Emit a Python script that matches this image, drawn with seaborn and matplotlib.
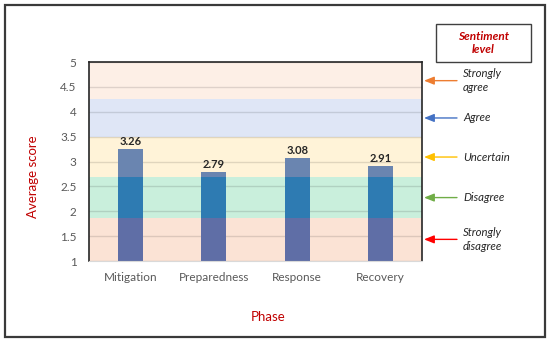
import matplotlib
matplotlib.use("Agg")
import matplotlib.pyplot as plt
from matplotlib.patches import Rectangle
import seaborn as sns
import pandas as pd

phases = ["Mitigation", "Preparedness", "Response", "Recovery"]
scores = [3.26, 2.79, 3.08, 2.91]
band_edges = [1.0, 1.87, 2.68, 3.5, 4.25, 5.0]
band_labels = ["Strongly\ndisagree", "Disagree", "Uncertain", "Agree", "Strongly\nagree"]
band_colors = ["#fbe3d5", "#c9efdc", "#fff3d8", "#dfe6f6", "#fdefe6"]
bar_colors = ["#5f6ea6", "#2e7bb2", "#6a85b0", "#6a85b0", "#6a85b0"]
arrow_colors = ["#ff0000", "#70ad47", "#ffc000", "#4472c4", "#ed7d31"]
yticks = [1, 1.5, 2, 2.5, 3, 3.5, 4, 4.5, 5]

sns.set_theme(style="white")
plt.rcParams["font.family"] = ["Lato", "DejaVu Sans"]

df = pd.DataFrame({"Phase": phases, "Score": scores})

fig = plt.figure(figsize=(5.5, 3.42), dpi=100)
ax = fig.add_axes([0.1618, 0.2368, 0.6055, 0.5819])

spans = []
for lo, hi, c in zip(band_edges[:-1], band_edges[1:], band_colors):
    spans.append(ax.axhspan(lo, hi, color=c, zorder=0, lw=0))

for span, bc in zip(spans, bar_colors[:3]):
    n0 = len(ax.patches)
    sns.barplot(data=df, x="Phase", y="Score", color=bc, saturation=1,
                width=0.3, ax=ax, errorbar=None, zorder=2, linewidth=0,
                edgecolor="none")
    for p in ax.patches[n0:]:
        p.set_clip_path(span)

for i, v in enumerate(scores):
    ax.text(i, v + 0.04, f"{v:.2f}", ha="center", va="bottom",
            fontsize=8, fontweight="bold", color="#262626")

ax.set_ylim(1, 5)
ax.set_xlim(-0.5, 3.5)
ax.set_yticks(yticks)
ax.set_yticklabels([f"{t:g}" for t in yticks])
ax.set_axisbelow(True)
ax.yaxis.grid(True, color="#000000", alpha=0.12, lw=1)
ax.xaxis.grid(False)
ax.tick_params(axis="y", length=0, pad=9, labelsize=8.5, labelcolor="#595959")
ax.tick_params(axis="x", length=0, pad=8, labelsize=8.5, labelcolor="#595959")
ax.set_xlabel("")
ax.set_ylabel("")
for s in ["left", "top", "right"]:
    ax.spines[s].set_color("#262626")
    ax.spines[s].set_linewidth(1.2)
ax.spines["bottom"].set_color("#d9d9d9")
ax.spines["bottom"].set_linewidth(0.8)

for lo, hi, lab, ac in zip(band_edges[:-1], band_edges[1:], band_labels, arrow_colors):
    mid = (lo + hi) / 2
    ax.annotate("", xy=(1.006, mid), xytext=(1.105, mid),
                xycoords=("axes fraction", "data"), textcoords=("axes fraction", "data"),
                arrowprops=dict(arrowstyle="-|>,head_length=0.5,head_width=0.2",
                                color=ac, lw=1, shrinkA=0, shrinkB=0),
                annotation_clip=False)
    ax.text(1.123, mid, lab, transform=ax.get_yaxis_transform(), ha="left",
            va="center", fontsize=8.2, fontstyle="italic", color="#262626",
            linespacing=1.3)

fig.text(0.06, 0.482, "Average score", rotation=90, ha="center", va="center",
         fontsize=9.5, color="#c00000")
fig.text(0.487, 0.073, "Phase", ha="center", va="center", fontsize=9.5, color="#c00000")

fig.patches.append(Rectangle((436 / 550, 1 - 62 / 342), 95 / 550, 38 / 342,
                             transform=fig.transFigure, fill=False,
                             edgecolor="#404040", lw=1))
fig.text(0.879, 0.874, "Sentiment\nlevel", ha="center", va="center", fontsize=8.5,
         fontweight="bold", fontstyle="italic", color="#c00000", linespacing=1.3)

fig.patches.append(Rectangle((5 / 550, 1 - 337 / 342), 540 / 550, 332 / 342,
                             transform=fig.transFigure, fill=False,
                             edgecolor="#3a3a3a", lw=1.6))

fig.savefig("out.png", dpi=100)
